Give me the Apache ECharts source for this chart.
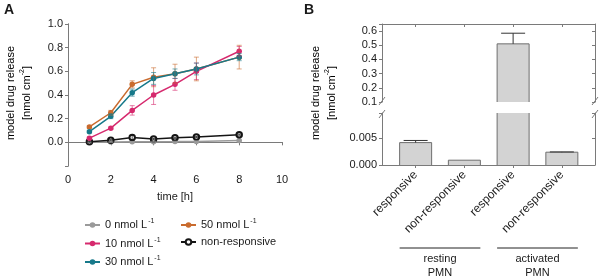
<!DOCTYPE html>
<html>
<head>
<meta charset="utf-8">
<script src="https://cdn.jsdelivr.net/npm/echarts@6/dist/echarts.min.js"></script>
<style>
  html, body { margin: 0; padding: 0; background: #fff; }
  #chart { width: 600px; height: 279px; }
</style>
</head>
<body>
<div id="chart"></div>
<script>
// panel A: release over time
var time = [1, 2, 3, 4, 5, 6, 8]
var conc0 = [0.000, 0.003, 0.004, 0.005, 0.006, 0.008, 0.015]
var conc0Err = [0.004, 0.004, 0.004, 0.004, 0.004, 0.004, 0.004]
var conc10 = [0.035, 0.12, 0.27, 0.40, 0.49, 0.60, 0.77]
var conc10Err = [0.01, 0.01, 0.04, 0.08, 0.05, 0.07, 0.04]
var conc30 = [0.09, 0.22, 0.42, 0.54, 0.58, 0.62, 0.72]
var conc30Err = [0.01, 0.02, 0.03, 0.05, 0.04, 0.05, 0.03]
var conc50 = [0.13, 0.25, 0.49, 0.55, 0.58, 0.62, 0.72]
var conc50Err = [0.01, 0.02, 0.03, 0.08, 0.08, 0.1, 0.1]
var nonResp = [0.005, 0.018, 0.04, 0.028, 0.038, 0.045, 0.065]
var nonRespErr = [0.003, 0.005, 0.02, 0.005, 0.005, 0.005, 0.005]

// panel B: bars
var barNames = ['responsive', 'non-responsive', 'responsive', 'non-responsive']
var barValues = [0.0042, 0.0009, 0.51, 0.0024]
var barErr = [0.0004, 0, 0.075, 0.00005]
var groupNames = ['resting\nPMN', 'activated\nPMN']

var FONT = 'Liberation Sans'
var AXIS = '#7a7a7a'
var TXT = '#1a1a1a'

var chart = echarts.init(document.getElementById('chart'))

function pairs (xs, ys) {
  return xs.map(function (x, i) { return [x, ys[i]] })
}
function errPairs (xs, ys, es) {
  return xs.map(function (x, i) { return [x, ys[i] - es[i], ys[i] + es[i]] })
}

function errorSeries (data, color, xi, yi, capW, upOnly) {
  return {
    type: 'custom',
    xAxisIndex: xi,
    yAxisIndex: yi,
    z: 4,
    silent: true,
    data: data,
    renderItem: function (params, api) {
      var x = api.value(0)
      var lo = api.coord([x, api.value(1)])
      var hi = api.coord([x, api.value(2)])
      var st = { stroke: color, lineWidth: 1 }
      var kids = [
        { type: 'line', shape: { x1: lo[0], y1: lo[1], x2: hi[0], y2: hi[1] }, style: st },
        { type: 'line', shape: { x1: hi[0] - capW, y1: hi[1], x2: hi[0] + capW, y2: hi[1] }, style: st }
      ]
      if (!upOnly) {
        kids.push({ type: 'line', shape: { x1: lo[0] - capW, y1: lo[1], x2: lo[0] + capW, y2: lo[1] }, style: st })
      }
      return { type: 'group', children: kids }
    }
  }
}

// bars drawn by hand so a bar cut by the axis break keeps no border at the cut
function barSeries (data, xi, yi) {
  return {
    type: 'custom',
    xAxisIndex: xi,
    yAxisIndex: yi,
    z: 2,
    silent: true,
    data: data,
    renderItem: function (params, api) {
      var cs = params.coordSys
      var x = api.value(0)
      var c = api.coord([x, api.value(1)])
      var base = api.coord([x, 0])
      var w = 32
      var top = Math.max(c[1], cs.y)
      var bot = Math.min(base[1], cs.y + cs.height)
      if (top >= bot) return
      var l = c[0] - w / 2, r = c[0] + w / 2
      var st = { stroke: '#6e6e6e', lineWidth: 1 }
      var kids = [
        { type: 'rect', shape: { x: l, y: top, width: w, height: bot - top }, style: { fill: '#d3d3d3' } },
        { type: 'line', shape: { x1: l, y1: top, x2: l, y2: bot }, style: st },
        { type: 'line', shape: { x1: r, y1: top, x2: r, y2: bot }, style: st }
      ]
      if (c[1] >= cs.y) kids.push({ type: 'line', shape: { x1: l, y1: top, x2: r, y2: top }, style: st })
      return { type: 'group', children: kids }
    }
  }
}

function lineSeries (name, ys, color, symbol) {
  return {
    name: name,
    type: 'line',
    xAxisIndex: 0,
    yAxisIndex: 0,
    z: 3,
    data: pairs(time, ys),
    symbol: symbol || 'circle',
    symbolSize: 5.5,
    lineStyle: { color: color, width: 1.5 },
    itemStyle: { color: color, borderWidth: 1.5 }
  }
}

var names = ['0 nmol L-1', '10 nmol L-1', '30 nmol L-1', '50 nmol L-1', 'non-responsive']
var colors = ['#9a9a9a', '#d62a6e', '#17798a', '#c96b2e', '#151515']

var richText = {
  t: { fontFamily: FONT, fontSize: 11, color: TXT, lineHeight: 14 },
  s: { fontFamily: FONT, fontSize: 7, color: TXT, verticalAlign: 'top', lineHeight: 14, padding: [0, 0, 0, 1] }
}
function legendFmt (name) {
  if (name.slice(-2) === '-1') return '{t|' + name.slice(0, -2) + '}{s|-1}'
  return '{t|' + name + '}'
}

// panel B error bars go to the part of the broken axis their bar ends in
var upperCut = 0.1
var barData = barValues.map(function (v, i) { return [i + 1, v] })
var errLow = [], errHigh = []
barValues.forEach(function (v, i) {
  if (barErr[i] > 0) {
    var e = [i + 1, v, v + barErr[i]]
    if (v > upperCut) errHigh.push(e)
    else errLow.push(e)
  }
})

var xB = { min: 0.31, max: 4.68 }
var ticksB = [1, 2, 3, 4]

var axisLineStyle = { lineStyle: { color: AXIS, width: 1 } }
var labelStyle = { fontFamily: FONT, fontSize: 11, color: TXT }

var option = {
  animation: false,
  grid: [
    { left: 68, top: 24, width: 214, height: 142 },
    { left: 382, top: 24, width: 213, height: 78 },
    { left: 382, top: 113, width: 213, height: 52 }
  ],
  xAxis: [
    {
      gridIndex: 0, type: 'value', min: 0, max: 10, interval: 2,
      axisLine: axisLineStyle, splitLine: { show: false },
      axisTick: { length: 3, lineStyle: { color: AXIS } },
      axisLabel: labelStyle,
      name: 'time [h]', nameLocation: 'middle', nameGap: 25,
      nameTextStyle: { fontFamily: FONT, fontSize: 11, color: TXT, verticalAlign: 'top' }
    },
    {
      gridIndex: 0, type: 'value', position: 'top', min: 0, max: 10, interval: 2,
      axisLine: axisLineStyle, splitLine: { show: false },
      axisTick: { inside: true, length: 2, lineStyle: { color: AXIS } },
      axisLabel: { show: false }
    },
    {
      gridIndex: 1, type: 'value', position: 'top', min: xB.min, max: xB.max,
      axisLine: axisLineStyle, splitLine: { show: false },
      axisTick: { inside: true, length: 3, customValues: ticksB, lineStyle: { color: AXIS } },
      axisLabel: { show: false }
    },
    {
      gridIndex: 2, type: 'value', position: 'bottom', min: xB.min, max: xB.max,
      axisLine: axisLineStyle, splitLine: { show: false },
      axisTick: { length: 3, customValues: ticksB, lineStyle: { color: AXIS } },
      axisLabel: {
        customValues: ticksB, rotate: 45, margin: 8,
        fontFamily: FONT, fontSize: 12, color: TXT,
        formatter: function (v) { return barNames[Math.round(v) - 1] }
      }
    }
  ],
  yAxis: [
    {
      gridIndex: 0, type: 'value', min: -0.2, max: 1.0, interval: 0.2,
      axisLine: { show: true, lineStyle: { color: AXIS } }, splitLine: { show: false },
      axisTick: { length: 3, lineStyle: { color: AXIS } },
      axisLabel: {
        fontFamily: FONT, fontSize: 11, color: TXT, margin: 5,
        formatter: function (v) { return v < -0.01 ? '' : v.toFixed(1) }
      }
    },
    {
      gridIndex: 0, type: 'value', position: 'right', min: -0.2, max: 1.0, interval: 0.2,
      axisLine: { show: true, lineStyle: { color: AXIS } }, splitLine: { show: false },
      axisTick: { inside: true, length: 2, lineStyle: { color: AXIS } },
      axisLabel: { show: false }
    },
    {
      gridIndex: 1, type: 'value', min: 0.1, max: 0.65, interval: 0.1,
      axisLine: { show: true, lineStyle: { color: AXIS } }, splitLine: { show: false },
      axisTick: { length: 3, lineStyle: { color: AXIS } },
      axisLabel: {
        fontFamily: FONT, fontSize: 11, color: TXT, margin: 5,
        formatter: function (v) { return v > 0.62 ? '' : v.toFixed(1) }
      }
    },
    {
      gridIndex: 1, type: 'value', position: 'right', min: 0.1, max: 0.65, interval: 0.1,
      axisLine: { show: true, lineStyle: { color: AXIS } }, splitLine: { show: false },
      axisTick: { inside: true, length: 3, lineStyle: { color: AXIS } },
      axisLabel: { show: false }
    },
    {
      gridIndex: 2, type: 'value', min: 0, max: 0.00975, interval: 0.005,
      axisLine: { show: true, lineStyle: { color: AXIS } }, splitLine: { show: false },
      axisTick: { length: 3, lineStyle: { color: AXIS } },
      axisLabel: {
        fontFamily: FONT, fontSize: 11, color: TXT, margin: 5,
        formatter: function (v) { return v > 0.006 ? '' : v.toFixed(3) }
      }
    },
    {
      gridIndex: 2, type: 'value', position: 'right', min: 0, max: 0.00975, interval: 0.005,
      axisLine: { show: true, lineStyle: { color: AXIS } }, splitLine: { show: false },
      axisTick: { inside: true, length: 3, lineStyle: { color: AXIS } },
      axisLabel: { show: false }
    }
  ],
  legend: [
    {
      left: 79, top: 213, orient: 'vertical', itemGap: 6, itemWidth: 15, itemHeight: 7,
      data: [names[0], names[1], names[2]],
      formatter: legendFmt, textStyle: { rich: richText }
    },
    {
      left: 175, top: 213, orient: 'vertical', itemGap: 6, itemWidth: 15, itemHeight: 7,
      data: [names[3], names[4]],
      formatter: legendFmt, textStyle: { rich: richText }
    }
  ],
  series: [
    errorSeries(errPairs(time, conc0, conc0Err), 'rgba(154,154,154,0.7)', 0, 0, 2.5),
    errorSeries(errPairs(time, nonResp, nonRespErr), 'rgba(21,21,21,0.7)', 0, 0, 2.5),
    errorSeries(errPairs(time, conc50, conc50Err), 'rgba(201,107,46,0.6)', 0, 0, 2.5),
    errorSeries(errPairs(time, conc10, conc10Err), 'rgba(214,42,110,0.6)', 0, 0, 2.5),
    errorSeries(errPairs(time, conc30, conc30Err), 'rgba(23,121,138,0.6)', 0, 0, 2.5),
    lineSeries(names[0], conc0, colors[0]),
    lineSeries(names[4], nonResp, colors[4], 'emptyCircle'),
    lineSeries(names[3], conc50, colors[3]),
    lineSeries(names[1], conc10, colors[1]),
    lineSeries(names[2], conc30, colors[2]),
    barSeries(barData, 2, 2),
    barSeries(barData, 3, 4),
    errorSeries(errHigh, '#333', 2, 2, 12, true),
    errorSeries(errLow, '#333', 3, 4, 12, true)
  ]
}
chart.setOption(option)

// labels, axis titles, axis break marks and group brackets
function yTitle (cx, cy) {
  return {
    type: 'text', x: cx, y: cy, rotation: Math.PI / 2,
    style: {
      text: '{t|model drug release}\n{t|[nmol cm}{s|-2}{t|]}',
      rich: {
        t: { fontFamily: FONT, fontSize: 11, color: TXT, lineHeight: 16 },
        s: { fontFamily: FONT, fontSize: 7, color: TXT, lineHeight: 16, verticalAlign: 'top' }
      },
      align: 'center', verticalAlign: 'middle'
    }
  }
}
function slash (x, y) {
  return { type: 'line', shape: { x1: x - 3, y1: y + 4, x2: x + 3, y2: y - 4 }, style: { stroke: AXIS, lineWidth: 1 } }
}
var brkTop = chart.convertToPixel({ gridIndex: 1 }, [xB.min, 0.1])[1]
var brkBot = chart.convertToPixel({ gridIndex: 2 }, [xB.min, 0.00975])[1]
var xL = 382, xR = 595
var gfx = [
  { type: 'text', x: 4, y: 3, style: { text: 'A', fontFamily: FONT, fontSize: 14, fontWeight: 'bold', fill: TXT } },
  { type: 'text', x: 304, y: 3, style: { text: 'B', fontFamily: FONT, fontSize: 14, fontWeight: 'bold', fill: TXT } },
  yTitle(19, 93),
  yTitle(324, 93),
  slash(xL, brkTop - 1), slash(xL, brkBot + 1),
  slash(xR, brkTop - 1), slash(xR, brkBot + 1)
]
groupNames.forEach(function (g, k) {
  var x1 = chart.convertToPixel({ gridIndex: 2 }, [2 * k + 1, 0])[0] - 16
  var x2 = chart.convertToPixel({ gridIndex: 2 }, [2 * k + 2, 0])[0] + 16
  gfx.push({ type: 'line', shape: { x1: x1, y1: 248, x2: x2, y2: 248 }, style: { stroke: '#222', lineWidth: 1 } })
  gfx.push({
    type: 'text', x: (x1 + x2) / 2, y: 252,
    style: { text: g, fontFamily: FONT, fontSize: 11, fill: TXT, align: 'center', lineHeight: 14 }
  })
})
chart.setOption({ graphic: gfx })
</script>
</body>
</html>
